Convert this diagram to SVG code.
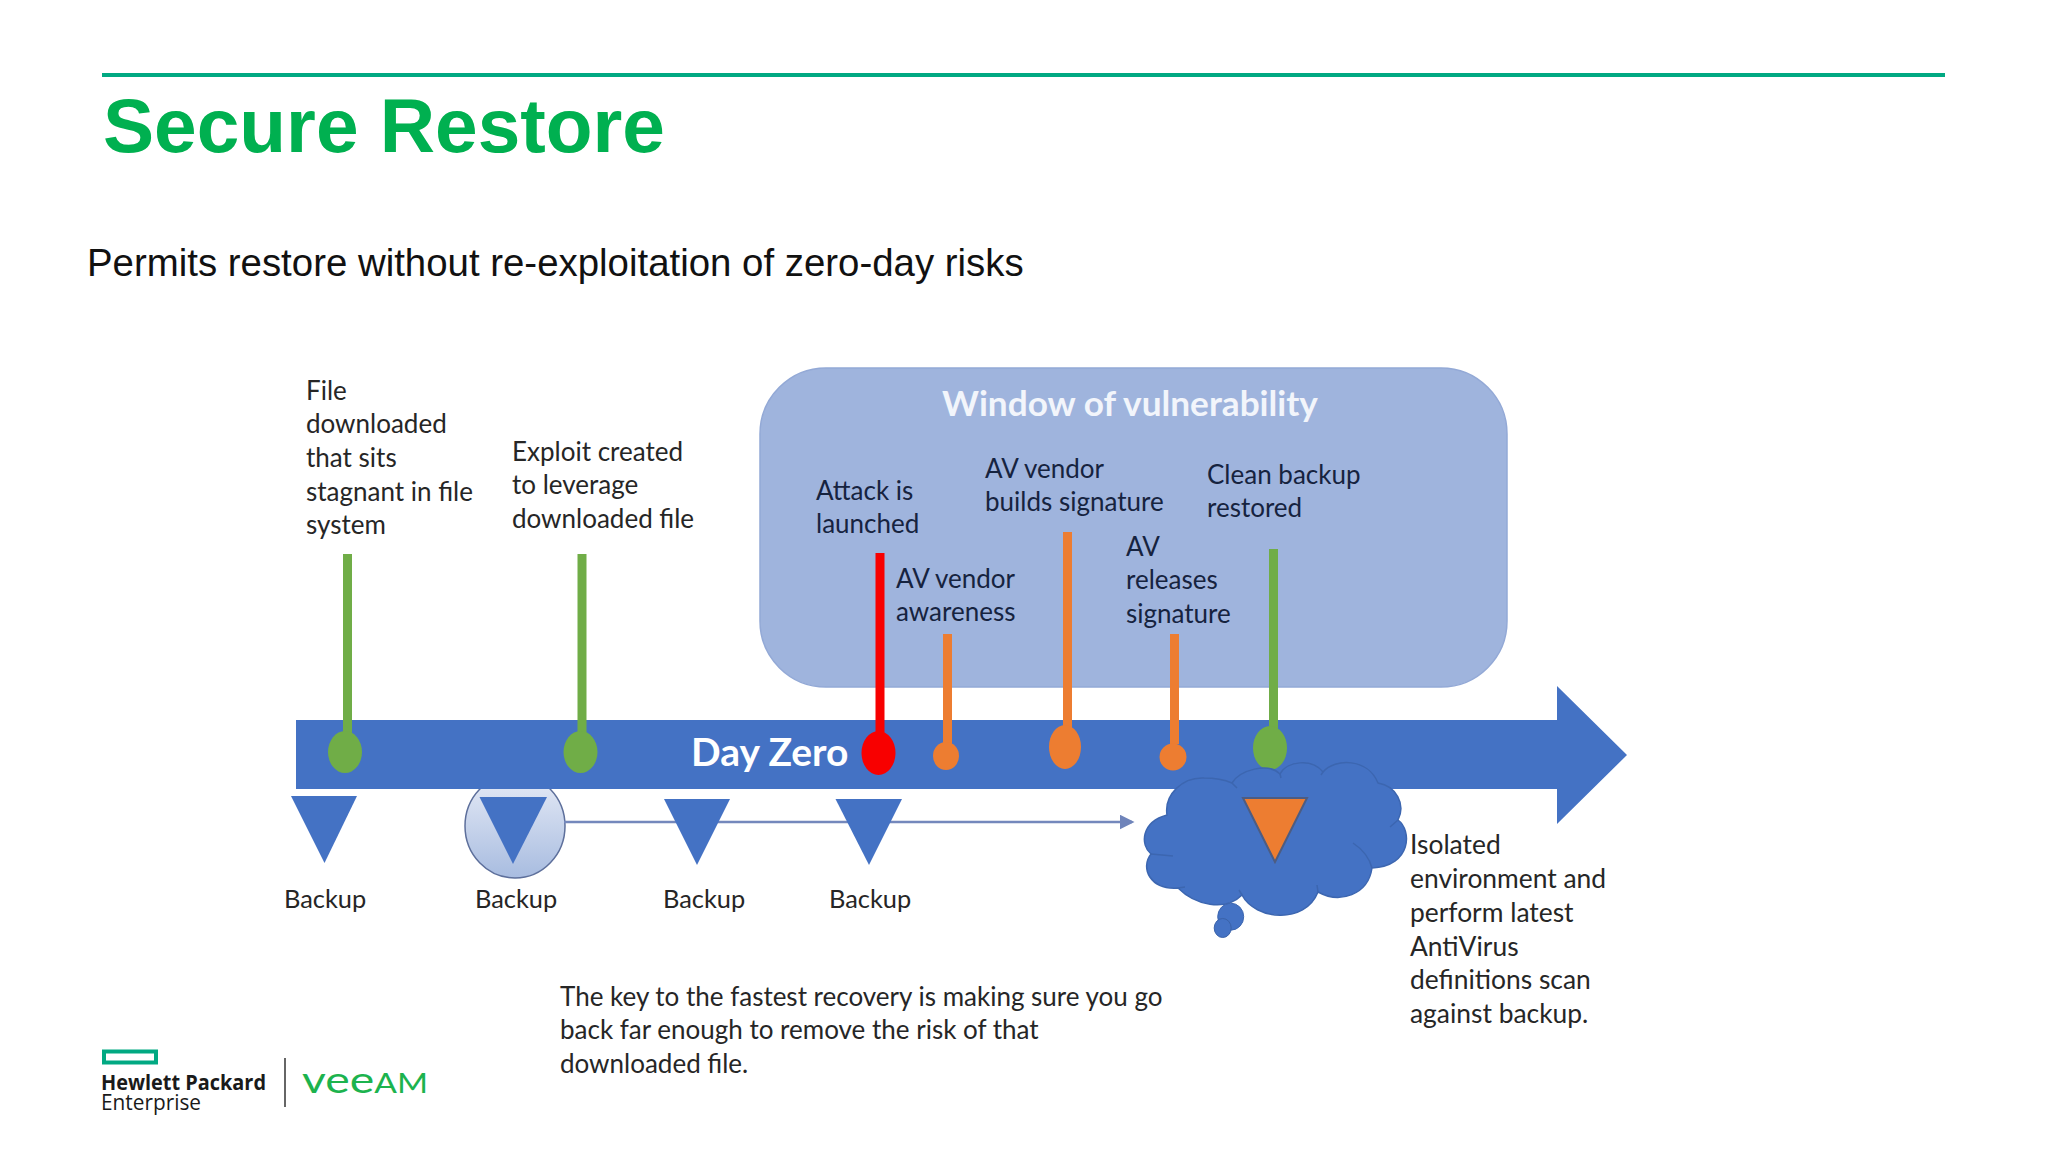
<svg xmlns="http://www.w3.org/2000/svg" width="2048" height="1152" viewBox="0 0 2048 1152">
<style>
text{font-family:"Lato","Liberation Sans",sans-serif;font-size:26px;fill:#262626}
.w{fill:#16233f}
.b{font-size:25.4px}
.i{font-size:26.4px}
.arial{font-family:"Liberation Sans",Arial,sans-serif}
.tri{fill:#4472c4}
.g{fill:#70ad47;stroke:none}
.o{fill:#ed7d31;stroke:none}
.r{fill:#f80000;stroke:none}
.wh{fill:#fff;font-weight:700}
</style>
<defs>
<linearGradient id="disc" x1="0" y1="0" x2="0" y2="1"><stop offset="0" stop-color="#e6ebf6"/><stop offset="1" stop-color="#a8bce0"/></linearGradient>
<marker id="ah" markerWidth="6" markerHeight="6" refX="5" refY="3" orient="auto"><path d="M0 0L6 3L0 6Z" fill="#6f84ba"/></marker>
</defs>
<rect width="2048" height="1152" fill="#fff"/>
<g id="header">
<rect x="102" y="73" width="1843" height="4" fill="#01a982"/>
<text x="103" y="152" class="arial" style="font-size:76.6px;font-weight:700;fill:#00b050">Secure Restore</text>
<text x="87" y="276" class="arial" style="font-size:38.4px;fill:#111">Permits restore without re-exploitation of zero-day risks</text>
</g>
<g id="window"><rect x="760" y="368" width="747" height="319" rx="66" fill="#9fb4dd" stroke="#93a9d6" stroke-width="1.5"/>
<text x="1130" y="416" text-anchor="middle" class="wh" style="font-size:35.2px;fill:#f2f5fb">Window of vulnerability</text></g>
<g id="backup-2-disc"><ellipse cx="515" cy="826" rx="50" ry="52" fill="url(#disc)" stroke="#5d6f9b" stroke-width="1.5"/></g>
<g id="timeline"><path d="M296 720H1557V686L1627 755L1557 824V789H296Z" fill="#4472c4"/>
<text x="691" y="766" class="wh" style="font-size:39px">Day Zero</text></g>
<g id="connectors">
<line x1="564" y1="822" x2="1132" y2="822" stroke="#7488bc" stroke-width="2.5" marker-end="url(#ah)"/>
<rect x="343" y="554" width="9" height="180" class="g"/>
<rect x="577.500" y="554" width="9" height="180" class="g"/>
<rect x="875.500" y="553" width="9" height="180" class="r"/>
<rect x="943" y="634" width="9" height="110" class="o"/>
<rect x="1063" y="532" width="9" height="200" class="o"/>
<rect x="1170" y="634" width="9" height="110" class="o"/>
<rect x="1269" y="549" width="9" height="185" class="g"/>
</g>
<g id="event-file"><ellipse cx="345" cy="752" rx="17" ry="21" class="g"/>
<text x="306" y="400">File</text><text x="306" y="433">downloaded</text><text x="306" y="467">that sits</text><text x="306" y="501">stagnant in file</text><text x="306" y="534">system</text></g>
<g id="event-exploit"><ellipse cx="580.500" cy="752" rx="17" ry="21" class="g"/>
<text x="512" y="461">Exploit created</text><text x="512" y="494">to leverage</text><text x="512" y="528">downloaded file</text></g>
<g id="event-attack"><ellipse cx="878.500" cy="753" rx="17" ry="22" class="r"/>
<text x="816" y="500" class="w">Attack is</text><text x="816" y="533" class="w">launched</text></g>
<g id="event-awareness"><ellipse cx="946" cy="756" rx="13" ry="14" class="o"/>
<text x="896" y="588" class="w">AV vendor</text><text x="896" y="621" class="w">awareness</text></g>
<g id="event-builds"><ellipse cx="1065" cy="747" rx="16" ry="22" class="o"/>
<text x="985" y="478" class="w">AV vendor</text><text x="985" y="511" class="w">builds signature</text></g>
<g id="event-releases"><ellipse cx="1173" cy="757" rx="13.500" ry="13.500" class="o"/>
<text x="1126" y="556" class="w">AV</text><text x="1126" y="589" class="w">releases</text><text x="1126" y="623" class="w">signature</text></g>
<g id="event-clean"><ellipse cx="1270" cy="748" rx="17" ry="22" class="g"/>
<text x="1207" y="484" class="w">Clean backup</text><text x="1207" y="517" class="w">restored</text></g>
<g id="cloud">
<ellipse cx="1230.700" cy="916.700" rx="13" ry="13.500" fill="#4472c4" stroke="#3c66b0" stroke-width="1"/>
<path d="M1151 854C1140 845 1141 822 1167 815C1164 795 1182 777 1204 778C1215 778 1225 780 1232 783C1240 770 1268 762 1280 774C1287 761 1312 758 1323 772C1335 758 1368 758 1378 783C1396 786 1406 804 1398 820C1412 830 1412 866 1372 868C1368 895 1340 904 1318 892C1305 925 1255 920 1242 895C1225 912 1195 905 1178 888C1150 890 1140 868 1151 854Z" fill="#4472c4" stroke="#3c66b0" stroke-width="1.500"/>
<path d="M1151 854L1173 856M1398 820L1390 827M1353 843Q1368 853 1372 868M1318 892L1317 885M1242 895L1239 890M1178 888L1185 887M1232 783L1237 788M1280 774L1281 778M1323 772L1321 775" fill="none" stroke="#3c66b0" stroke-width="1.500"/>
<ellipse cx="1222.700" cy="928" rx="8.500" ry="9.500" fill="#4472c4" stroke="#3a62a8" stroke-width="1"/>
<path d="M1243 798H1307L1275 862Z" fill="#ed7d31" stroke="#4d5c82" stroke-width="2"/>
</g>
<g id="backup-1"><path d="M291 796H357L324.500 863Z" class="tri"/><text x="284" y="908" class="b">Backup</text></g>
<g id="backup-2"><path d="M479.500 797H547L513 864Z" class="tri"/><text x="475" y="908" class="b">Backup</text></g>
<g id="backup-3"><path d="M664 799H730L697 865Z" class="tri"/><text x="663" y="908" class="b">Backup</text></g>
<g id="backup-4"><path d="M835.500 799H902L869 865Z" class="tri"/><text x="829" y="908" class="b">Backup</text></g>
<g id="isolated"><text x="1410" y="854" class="i">Isolated</text><text x="1410" y="888" class="i">environment and</text><text x="1410" y="922" class="i">perform latest</text><text x="1410" y="956" class="i">AntiVirus</text><text x="1410" y="989" class="i">definitions scan</text><text x="1410" y="1023" class="i">against backup.</text></g>
<g id="note"><text x="560" y="1006">The key to the fastest recovery is making sure you go</text><text x="560" y="1039">back far enough to remove the risk of that</text><text x="560" y="1073">downloaded file.</text></g>
<g id="logos">
<rect x="104" y="1051.500" width="52" height="11" fill="none" stroke="#01a982" stroke-width="4"/>
<text x="101" y="1090" style="font-family:'Open Sans',sans-serif;font-size:21px;font-weight:700;fill:#1a1a1a" textLength="165" lengthAdjust="spacingAndGlyphs">Hewlett Packard</text>
<text x="101" y="1110" style="font-family:'Open Sans',sans-serif;font-size:21px;fill:#1a1a1a" textLength="100" lengthAdjust="spacingAndGlyphs">Enterprise</text>
<line x1="285" y1="1058" x2="285" y2="1107" stroke="#333" stroke-width="1.500"/>
<text x="302" y="1093" style="font-size:36px;font-weight:400;fill:#1cb34e" textLength="126" lengthAdjust="spacingAndGlyphs">vee<tspan style="font-size:26px">AM</tspan></text>
</g>
</svg>
